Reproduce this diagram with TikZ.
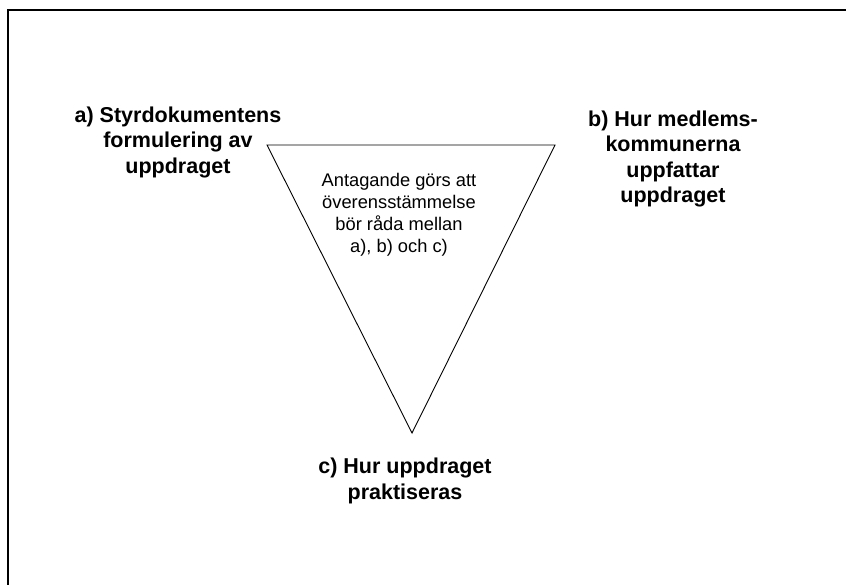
\documentclass[tikz,border=0pt]{standalone}
\usepackage{fontspec}
\setmainfont{Liberation Sans}

\begin{document}
\begin{tikzpicture}[x=1pt,y=-1pt,
  etikett/.style={font=\fontsize{21.5}{25.5}\selectfont\bfseries,align=center,inner sep=0pt},
  inre/.style={font=\fontsize{18.3}{22}\selectfont,align=center,inner sep=0pt}]
            \useasboundingbox (0,0) rectangle (846,585);
            \clip (0,0) rectangle (846,585);
            \draw[line width=1.5pt] (8,10) rectangle (900,650);
            \draw[line width=0.9pt] (267,145) -- (555,145) -- (412,433) -- cycle;
            \node[inre] (antagande) at (399,215) {Antagande görs att\\överensstämmelse\\bör råda mellan\\a), b) och c)};
            \node[etikett] (a) at (178,142) {a) Styrdokumentens\\formulering av\\uppdraget};
            \node[etikett] (b) at (673,159) {b) Hur medlems-\\kommunerna\\uppfattar\\uppdraget};
            \node[etikett] (c) at (405,481) {c) Hur uppdraget\\praktiseras};
        \end{tikzpicture}
\end{document}
